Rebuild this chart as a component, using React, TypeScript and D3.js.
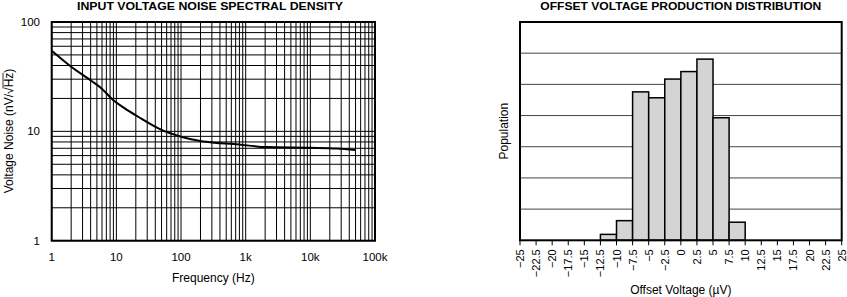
import React from "react";
import * as d3 from "d3";

const noiseFreq = [1, 2, 4.1, 5.9, 8.4, 13.5, 21.7, 50, 100, 200, 330, 650, 2100, 10000, 25700, 49500];
const noiseVal = [54.6, 39, 29, 24.7, 20, 16.2, 13.6, 10.3, 8.93, 8.15, 7.87, 7.66, 7.18, 7.08, 6.98, 6.75];
const freqTicks = [1, 10, 100, 1000, 10000, 100000];
const freqTickLabels = ["1", "10", "100", "1k", "10k", "100k"];
const noiseTicks = [1, 10, 100];
const noiseTickLabels = ["1", "10", "100"];

const binStart = [-12.5, -10, -7.5, -5, -2.5, 0, 2.5, 5, 7.5];
const binCount = [0.19, 0.63, 4.76, 4.57, 5.17, 5.41, 5.81, 3.93, 0.58];
const binWidth = 2.5;
const offsetTicks = [-25, -22.5, -20, -17.5, -15, -12.5, -10, -7.5, -5, -2.5, 0, 2.5, 5, 7.5, 10, 12.5, 15, 17.5, 20, 22.5, 25];
const offsetTickLabels = ["−25", "−22.5", "−20", "−17.5", "−15", "−12.5", "−10", "−7.5", "−5", "−2.5", "0", "2.5", "5", "7.5", "10", "12.5", "15", "17.5", "20", "22.5", "25"];
const popGrid = [1, 2, 3, 4, 5, 6];

const FONT = "'Liberation Sans', Arial, Helvetica, sans-serif";

export default function App() {
  // Left chart
  const L = { x0: 51.7, x1: 375, y0: 22, y1: 240.7 };
  const xL = d3.scaleLog().domain([1, 100000]).range([L.x0, L.x1]);
  const yL = d3.scaleLog().domain([1, 100]).range([L.y1, L.y0]);
  const xGrid: number[] = [];
  for (let d = 1; d < 100000; d *= 10) for (let m = 1; m <= 9; m++) xGrid.push(d * m);
  xGrid.push(100000);
  const yGrid: number[] = [];
  for (let d = 1; d < 100; d *= 10) for (let m = 1; m <= 9; m++) yGrid.push(d * m);
  yGrid.push(100);
  const line = d3
    .line<number>()
    .x((_, i) => xL(noiseFreq[i]))
    .y((v) => yL(v))
    .curve(d3.curveMonotoneX);

  // Right chart
  const R = { x0: 520, x1: 841.7, y0: 22, y1: 240.3 };
  const xR = d3.scaleLinear().domain([-25, 25]).range([R.x0, R.x1]);
  const yR = d3.scaleLinear().domain([0, 7]).range([R.y1, R.y0]);

  const yMid = (L.y0 + L.y1) / 2;

  return (
    <svg width={847} height={297} style={{ position: "absolute", left: 0, top: 0, background: "#fff" }} fontFamily={FONT}>
      {/* LEFT */}
      <text x={210} y={9.5} textAnchor="middle" fontSize={11} fontWeight="bold" textLength={266} lengthAdjust="spacingAndGlyphs">
        INPUT VOLTAGE NOISE SPECTRAL DENSITY
      </text>
      {xGrid.map((f, i) => (
        <line key={"xg" + i} x1={xL(f)} x2={xL(f)} y1={L.y0} y2={L.y1} stroke="#000" strokeWidth={1} />
      ))}
      {yGrid.map((v, i) => (
        <line key={"yg" + i} x1={L.x0} x2={L.x1} y1={yL(v)} y2={yL(v)} stroke="#000" strokeWidth={1} />
      ))}
      <rect x={L.x0} y={L.y0} width={L.x1 - L.x0} height={L.y1 - L.y0} fill="none" stroke="#000" strokeWidth={2} />
      <path d={line(noiseVal) || ""} fill="none" stroke="#000" strokeWidth={2} />
      {freqTicks.map((f, i) => (
        <text key={"xl" + i} x={xL(f)} y={261} textAnchor="middle" fontSize={11.5}>
          {freqTickLabels[i]}
        </text>
      ))}
      {noiseTicks.map((v, i) => (
        <text key={"yl" + i} x={40} y={yL(v) + 4} textAnchor="end" fontSize={11.5}>
          {noiseTickLabels[i]}
        </text>
      ))}
      <text x={(L.x0 + L.x1) / 2} y={282} textAnchor="middle" fontSize={12}>
        Frequency (Hz)
      </text>
      <g transform={`translate(13,${yMid}) rotate(-90)`}>
        <text x={44} y={0} textAnchor="end" fontSize={12}>
          Voltage Noise (nV/√
        </text>
        <text x={44} y={0} textAnchor="start" fontSize={12}>
          Hz)
        </text>
        <line x1={43} x2={58.5} y1={-10} y2={-10} stroke="#000" strokeWidth={0.8} />
      </g>

      {/* RIGHT */}
      <text x={(R.x0 + R.x1) / 2} y={9.5} textAnchor="middle" fontSize={11} fontWeight="bold" textLength={281} lengthAdjust="spacingAndGlyphs">
        OFFSET VOLTAGE PRODUCTION DISTRIBUTION
      </text>
      {popGrid.map((g, i) => (
        <line key={"pg" + i} x1={R.x0} x2={R.x1} y1={yR(g)} y2={yR(g)} stroke="#444" strokeWidth={1} />
      ))}
      {binStart.map((b, i) => (
        <rect
          key={"bar" + i}
          x={xR(b)}
          y={yR(binCount[i])}
          width={xR(b + binWidth) - xR(b)}
          height={yR(0) - yR(binCount[i])}
          fill="#d4d4d4"
          stroke="#000"
          strokeWidth={1.5}
        />
      ))}
      <rect x={R.x0} y={R.y0} width={R.x1 - R.x0} height={R.y1 - R.y0} fill="none" stroke="#000" strokeWidth={2} />
      {offsetTicks.map((t, i) => (
        <g key={"ot" + i}>
          <line x1={xR(t)} x2={xR(t)} y1={R.y1} y2={R.y1 + 5} stroke="#000" strokeWidth={1} />
          <text
            transform={`translate(${xR(t) + 4},${R.y1 + 9}) rotate(-90)`}
            textAnchor="end"
            fontSize={11}
          >
            {offsetTickLabels[i]}
          </text>
        </g>
      ))}
      <text x={(R.x0 + R.x1) / 2} y={294} textAnchor="middle" fontSize={12}>
        Offset Voltage (µV)
      </text>
      <text transform={`translate(508,${(R.y0 + R.y1) / 2}) rotate(-90)`} textAnchor="middle" fontSize={12}>
        Population
      </text>
    </svg>
  );
}
